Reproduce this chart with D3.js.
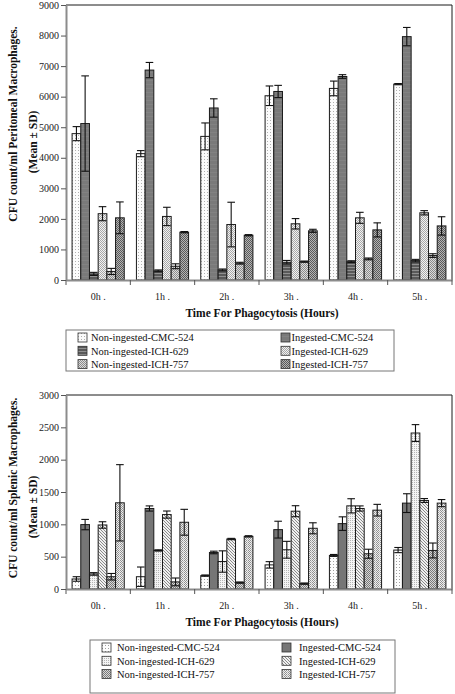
<!DOCTYPE html>
<html><head><meta charset="utf-8">
<script src="https://cdn.jsdelivr.net/npm/d3@7/dist/d3.min.js"></script>
<style>
html,body{margin:0;padding:0;background:#fff;}
svg{display:block;font-family:"Liberation Serif","Times New Roman",serif;}
</style></head>
<body>
<svg id="c" width="455" height="694"></svg>
<script>
const categories = ["0h .","1h .","2h .","3h .","4h .","5h ."];
const series = ["Non-ingested-CMC-524","Ingested-CMC-524","Non-ingested-ICH-629","Ingested-ICH-629","Non-ingested-ICH-757","Ingested-ICH-757"];
const legendOrder = [0,1,2,3,4,5];

// Peritoneal macrophages (mean, SD) per series across time
const perNiCmc = [4790, 4135, 4700, 6030, 6270, 6410];
const perICmc  = [5120, 6870, 5630, 6170, 6660, 7965];
const perNi629 = [200, 300, 330, 580, 600, 635];
const perI629  = [2170, 2080, 1815, 1840, 2035, 2200];
const perNi757 = [280, 450, 550, 600, 690, 800];
const perI757  = [2035, 1565, 1465, 1610, 1640, 1770];
const perSdNiCmc = [230, 100, 440, 320, 240, 20];
const perSdICmc  = [1560, 250, 300, 200, 60, 300];
const perSdNi629 = [50, 30, 30, 60, 30, 40];
const perSdI629  = [230, 300, 730, 170, 180, 70];
const perSdNi757 = [100, 80, 30, 20, 30, 60];
const perSdI757  = [520, 20, 20, 50, 230, 300];
const perTicks = [0,1000,2000,3000,4000,5000,6000,7000,8000,9000];

// Splenic macrophages
const splNiCmc = [155, 190, 207, 373, 519, 602];
const splICmc  = [996, 1245, 565, 918, 1011, 1328];
const splNi629 = [233, 596, 425, 607, 1286, 2412];
const splI629  = [990, 1151, 773, 1203, 1245, 1369];
const splNi757 = [190, 110, 99, 83, 545, 596];
const splI757  = [1333, 1032, 814, 939, 1219, 1328];
const splSdNiCmc = [35, 150, 10, 50, 15, 40];
const splSdICmc  = [80, 40, 20, 130, 105, 145];
const splSdNi629 = [20, 10, 165, 130, 110, 130];
const splSdI629  = [50, 55, 10, 85, 40, 30];
const splSdNi757 = [50, 60, 10, 10, 70, 115];
const splSdI757  = [590, 200, 10, 85, 90, 55];
const splTicks = [0,500,1000,1500,2000,2500,3000];

const svg = d3.select("#c");
const defs = svg.append("defs");

function pat(id, w, h, bg, draw){
  const p = defs.append("pattern").attr("id", id).attr("patternUnits","userSpaceOnUse").attr("width", w).attr("height", h);
  p.append("rect").attr("width", w).attr("height", h).attr("fill", bg);
  draw(p);
}
function px(p, x, y, c){ p.append("rect").attr("x",x).attr("y",y).attr("width",1).attr("height",1).attr("fill",c); }

// top patterns
pat("t0",3,3,"#fbfbfb",p=>{px(p,0,0,"#b0b0b0");});
pat("t1",4,4,"#7a7a7a",p=>{p.append("rect").attr("y",0).attr("width",4).attr("height",1).attr("fill","#828282");});
pat("t2",3,3,"#595959",p=>{p.append("rect").attr("y",0).attr("width",3).attr("height",1).attr("fill","#909090");});
pat("t3",2,2,"#f2f2f2",p=>{px(p,0,0,"#a8a8a8");px(p,1,1,"#a8a8a8");});
pat("t4",2,2,"#dcdcdc",p=>{px(p,0,0,"#8c8c8c");px(p,1,1,"#8c8c8c");});
pat("t5",2,2,"#b4b4b4",p=>{px(p,0,0,"#5a5a5a");px(p,1,1,"#5a5a5a");});
// bottom patterns
pat("b0",3,3,"#fdfdfd",p=>{px(p,0,0,"#a0a0a0");});
pat("b1",4,4,"#767676",p=>{});
pat("b2",2,2,"#f4f4f4",p=>{px(p,0,0,"#b4b4b4");});
pat("b3",3,3,"#f0f0f0",p=>{px(p,0,0,"#8a8a8a");px(p,1,1,"#8a8a8a");px(p,2,2,"#8a8a8a");});
pat("b4",2,2,"#d8d8d8",p=>{px(p,0,0,"#7a7a7a");px(p,1,1,"#7a7a7a");});
pat("b5",4,2,"#efefef",p=>{px(p,0,0,"#909090");px(p,1,1,"#909090");px(p,2,0,"#909090");px(p,3,1,"#b8b8b8");});

function chart(cfg){
  const x0 = d3.scaleBand().domain(categories).range([cfg.left, cfg.right]).padding(0);
  const x1 = d3.scaleBand().domain(series).range([0, x0.bandwidth()]).paddingInner(0).paddingOuter(0.7);
  const y = d3.scaleLinear().domain([0, cfg.max]).range([cfg.bottom, cfg.top]);
  const g = svg.append("g");
  // plot border top/right
  g.append("path").attr("d", `M${cfg.left},${cfg.top}H${cfg.right}V${cfg.bottom}`).attr("fill","none").attr("stroke","#1a1a1a").attr("stroke-width",1);
  // bars
  cfg.values.forEach((vals, si) => {
    const sName = series[si];
    g.append("g").selectAll("rect").data(vals).join("rect")
      .attr("x", (d,i) => x0(categories[i]) + x1(sName))
      .attr("y", d => y(d))
      .attr("width", x1.bandwidth())
      .attr("height", d => cfg.bottom - y(d))
      .attr("fill", `url(#${cfg.pats[si]})`)
      .attr("stroke", "#1a1a1a").attr("stroke-width", 1);
  });
  // error bars
  cfg.values.forEach((vals, si) => {
    const sName = series[si];
    vals.forEach((v, i) => {
      const sd = cfg.sds[si][i];
      const cx = x0(categories[i]) + x1(sName) + x1.bandwidth()/2;
      const hw = 3.8;
      const yt = y(v+sd), yb = y(Math.max(0,v-sd));
      const eg = g.append("g").attr("stroke","#111").attr("stroke-width",1.1);
      eg.append("line").attr("x1",cx).attr("x2",cx).attr("y1",yt).attr("y2",yb);
      eg.append("line").attr("x1",cx-hw).attr("x2",cx+hw).attr("y1",yt).attr("y2",yt);
      eg.append("line").attr("x1",cx-hw).attr("x2",cx+hw).attr("y1",yb).attr("y2",yb);
    });
  });
  // y axis
  const ya = g.append("g").attr("transform", `translate(${cfg.left},0)`)
    .call(d3.axisLeft(y).tickValues(cfg.ticks).tickSize(5).tickSizeOuter(0).tickPadding(2).tickFormat(d3.format("d")));
  ya.select(".domain").attr("stroke","#8c8c8c").attr("stroke-width",2);
  ya.selectAll(".tick line").attr("stroke","#555");
  ya.selectAll("text").attr("font-size","10px").attr("fill","#222").attr("font-family","Liberation Serif, Times New Roman, serif");
  // x axis
  const xa = g.append("g").attr("transform", `translate(0,${cfg.bottom})`)
    .call(d3.axisBottom(x0).tickSize(0).tickPadding(13));
  xa.select(".domain").attr("stroke","#8c8c8c").attr("stroke-width",2);
  xa.selectAll("text").attr("font-size","10px").attr("fill","#222").attr("font-family","Liberation Serif, Times New Roman, serif");
  // group boundary ticks
  const bounds = categories.map(c => x0(c)).concat([cfg.right]);
  g.append("g").selectAll("line").data(bounds).join("line")
    .attr("x1", d=>d).attr("x2", d=>d).attr("y1", cfg.bottom).attr("y2", cfg.bottom+5)
    .attr("stroke","#555");
  // x title
  g.append("text").attr("x", (cfg.left+cfg.right)/2 + 3).attr("y", cfg.bottom + 37)
    .attr("text-anchor","middle").attr("font-weight","bold").attr("font-size","11.5px").attr("fill","#111")
    .text("Time For Phagocytosis (Hours)");
  // y title
  g.append("text").attr("transform", `translate(17,${cfg.yTitleC1}) rotate(-90)`)
    .attr("text-anchor","middle").attr("font-weight","bold").attr("font-size","11.5px").attr("fill","#111")
    .text(cfg.yTitle);
  g.append("text").attr("transform", `translate(37,${cfg.yTitleC2}) rotate(-90)`)
    .attr("text-anchor","middle").attr("font-weight","bold").attr("font-size","11.5px").attr("fill","#111")
    .text("(Mean ± SD)");
  // legend
  const L = cfg.legend;
  g.append("rect").attr("x",L.x).attr("y",L.y).attr("width",L.w).attr("height",L.h)
    .attr("fill","#fff").attr("stroke","#777").attr("stroke-width",1);
  legendOrder.forEach((si, k) => {
    const col = k % 2, row = Math.floor(k/2);
    const sx = col === 0 ? L.sx0 : L.sx1;
    const tx = col === 0 ? L.tx0 : L.tx1;
    const cy = L.y + L.row0 + row*13.3;
    g.append("rect").attr("x", sx).attr("y", cy-4.5).attr("width", 9).attr("height", 9)
      .attr("fill", `url(#${cfg.pats[si]})`).attr("stroke","#333").attr("stroke-width",0.8);
    g.append("text").attr("x", tx).attr("y", cy+3.8).attr("font-size","10.5px").attr("fill","#111")
      .text(series[si]);
  });
}

chart({
  left:66, right:452, top:5, bottom:280, max:9000, ticks:perTicks,
  values:[perNiCmc, perICmc, perNi629, perI629, perNi757, perI757],
  sds:[perSdNiCmc, perSdICmc, perSdNi629, perSdI629, perSdNi757, perSdI757],
  pats:["t0","t1","t2","t3","t4","t5"],
  yTitle:"CFU count/ml Peritoneal Macrophages.", yTitleC1:124, yTitleC2:142,
  legend:{x:66,y:330,w:328,h:41,row0:7.5,sx0:78,tx0:91,sx1:281,tx1:291.5}
});
chart({
  left:66, right:452, top:395, bottom:589, max:3000, ticks:splTicks,
  values:[splNiCmc, splICmc, splNi629, splI629, splNi757, splI757],
  sds:[splSdNiCmc, splSdICmc, splSdNi629, splSdI629, splSdNi757, splSdI757],
  pats:["b0","b1","b2","b3","b4","b5"],
  yTitle:"CFU count/ml Splenic Macrophages.", yTitleC1:488, yTitleC2:507,
  legend:{x:90,y:640,w:305,h:53,row0:7.5,sx0:102,tx0:117,sx1:282,tx1:299}
});
</script>
</body></html>
